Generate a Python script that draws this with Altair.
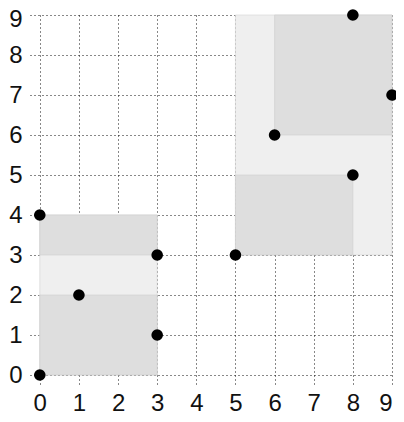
import altair as alt
import pandas as pd

# points
px = [0, 0, 1, 3, 3, 5, 6, 8, 8, 9]
py = [0, 4, 2, 1, 3, 3, 6, 5, 9, 7]

# outer bounding boxes
ox1 = [0, 5]
ox2 = [3, 9]
oy1 = [0, 3]
oy2 = [4, 9]

# inner bounding boxes
ix1 = [0, 0, 5, 6]
ix2 = [3, 3, 8, 9]
iy1 = [0, 3, 3, 6]
iy2 = [2, 4, 5, 9]

ticks = list(range(10))

pts = pd.DataFrame({"x": px, "y": py})
outer = pd.DataFrame({"x": ox1, "x2": ox2, "y": oy1, "y2": oy2})
inner = pd.DataFrame({"x": ix1, "x2": ix2, "y": iy1, "y2": iy2})

FONT = "Liberation Sans"

xscale = alt.Scale(domain=[-0.25, 9], nice=False, zero=False)
yscale = alt.Scale(domain=[-0.25, 9], nice=False, zero=False)

xaxis = alt.Axis(values=ticks, title=None, domain=False, ticks=False,
                 labelPadding=6, labelAngle=0)
yaxis = alt.Axis(values=ticks, title=None, domain=False, ticks=False,
                 labelPadding=8,
                 labelOffset={"condition": {"test": "datum.value == 9", "value": 4}, "value": 0})

r_outer = alt.Chart(outer).mark_rect(fill="#efefef", stroke="#d4d4d4", strokeWidth=0.6).encode(
    x=alt.X("x:Q", scale=xscale, axis=xaxis), x2="x2",
    y=alt.Y("y:Q", scale=yscale, axis=yaxis), y2="y2")

r_inner = alt.Chart(inner).mark_rect(fill="#dedede", stroke="#cccccc", strokeWidth=0.6).encode(
    x=alt.X("x:Q", scale=xscale), x2="x2",
    y=alt.Y("y:Q", scale=yscale), y2="y2")

points = alt.Chart(pts).mark_circle(size=135, color="black", opacity=1).encode(
    x=alt.X("x:Q", scale=xscale),
    y=alt.Y("y:Q", scale=yscale))

chart = alt.layer(r_outer, r_inner, points).properties(
    width=362, height=370,
    autosize=alt.AutoSizeParams(type="none"),
    padding={"left": 22, "top": 7, "right": 4, "bottom": 34},
).configure_view(stroke=None).configure_axis(
    grid=True, gridColor="#111111", gridDash=[1, 3], gridWidth=1, gridOpacity=1,
    labelFont=FONT, labelFontSize=24, labelColor="#111111", zindex=1,
).configure_axisY(labelAlign="right")

chart.save("out.html", embed_options={"renderer": "svg", "actions": False})
